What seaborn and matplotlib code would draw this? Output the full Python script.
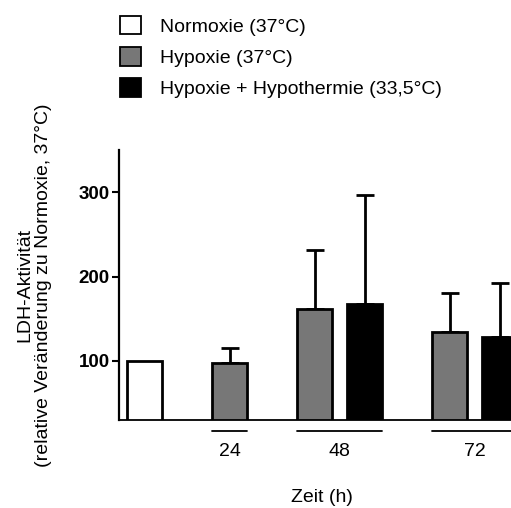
import numpy as np
import pandas as pd
import matplotlib
matplotlib.use("Agg")
import matplotlib.pyplot as plt
import matplotlib.transforms as mtransforms
from matplotlib.patches import Patch
import seaborn as sns

# ---------------- data ----------------
conditions = ["Normoxie (37°C)", "Hypoxie (37°C)", "Hypoxie + Hypothermie (33,5°C)"]
time_labels = ["24", "48", "72"]
normoxie_mean = [100]
hypoxie_mean = [97, 161, 134]
hypoxie_err = [18, 70, 47]
hypotherm_mean = [np.nan, 168, 128]
hypotherm_err = [np.nan, 129, 64]
ylabel_text = "LDH-Aktivität\n(relative Veränderung zu Normoxie, 37°C)"
xlabel_text = "Zeit (h)"
y_ticks = [100, 200, 300]

# ---------------- style ----------------
sns.set_style("ticks")
plt.rcParams["font.family"] = ["Liberation Sans", "DejaVu Sans"]
for k in ("text.color", "axes.labelcolor", "xtick.color", "ytick.color", "axes.edgecolor"):
    plt.rcParams[k] = "black"
colors = {conditions[0]: "white", conditions[1]: "#777777", conditions[2]: "black"}

# layout constants (bar width : within-group step : between-group step)
BAR_W = 0.7
WITHIN = 1.0
BETWEEN = 1.7

# build table of bars with layout positions
rows = []
groups = [("", [(conditions[0], normoxie_mean[0], np.nan)])]
for i, t in enumerate(time_labels):
    g = [(conditions[1], hypoxie_mean[i], hypoxie_err[i])]
    if not np.isnan(hypotherm_mean[i]):
        g.append((conditions[2], hypotherm_mean[i], hypotherm_err[i]))
    groups.append((t, g))

pos = 0.0
group_spans = []
first = True
for label, bars in groups:
    gpos = []
    for j, (cond, m, e) in enumerate(bars):
        if not first:
            pos += WITHIN if j > 0 else BETWEEN
        first = False
        rows.append({"pos": pos, "val": m, "err": e, "cond": cond})
        gpos.append(pos)
    group_spans.append((label, gpos[0], gpos[-1]))
df = pd.DataFrame(rows)

# ---------------- figure ----------------
W, H = 511, 508
fig = plt.figure(figsize=(W / 100, H / 100), dpi=100)
ax_left, ax_bottom_px, ax_top_px = 119, 420, 150
xmin, xmax = -0.51, 7.6
px_per_unit = 50.0
ax_w = (xmax - xmin) * px_per_unit
ax = fig.add_axes([ax_left / W, (H - ax_bottom_px) / H, ax_w / W, (ax_bottom_px - ax_top_px) / H])

sns.barplot(data=df, x="pos", y="val", hue="cond", hue_order=conditions,
            palette=colors, native_scale=True, width=BAR_W, dodge=False,
            errorbar=None, edgecolor="black", linewidth=2.0, saturation=1,
            legend=False, ax=ax, zorder=2)

e = df.dropna(subset=["err"])
ax.errorbar(e["pos"], e["val"], yerr=[np.zeros(len(e)), e["err"]], fmt="none",
            ecolor="black", elinewidth=2.0, capsize=6.5, capthick=2.0, zorder=1)

ax.set_xlim(xmin, xmax)
ax.set_ylim(30, 350)
ax.set_yticks(y_ticks)
ax.set_yticklabels([str(v) for v in y_ticks], fontsize=13.5, fontweight="bold")
ax.tick_params(axis="y", length=5, width=1.5, pad=1.5, color="black")

centers = [(a + b) / 2 for lbl, a, b in group_spans if lbl]
ax.set_xticks(centers)
ax.set_xticklabels([lbl for lbl, a, b in group_spans if lbl], fontsize=14)
ax.tick_params(axis="x", length=0, pad=16.5)

sns.despine(ax=ax)
ax.spines["left"].set_linewidth(1.6)
ax.spines["bottom"].set_linewidth(1.3)

trans = mtransforms.blended_transform_factory(ax.transData, ax.transAxes)
for lbl, a, b in group_spans:
    if lbl:
        ax.plot([a - BAR_W / 2, b + BAR_W / 2], [-0.04, -0.04], color="black",
                lw=1.3, transform=trans, clip_on=False)

ax.set_ylabel(ylabel_text, fontsize=14, linespacing=1.15)
ax.yaxis.set_label_coords(-0.165, 0.5)
ax.set_xlabel(xlabel_text, fontsize=14)
ax.xaxis.set_label_coords(0.5, -0.256)

handles = [Patch(facecolor=colors[c], edgecolor="black", linewidth=1.3) for c in conditions]
fig.legend(handles, conditions, loc="upper left", bbox_to_anchor=(120 / W, (H - 16) / H),
           frameon=False, fontsize=14, handlelength=1.08, handleheight=1.08,
           handletextpad=1.0, labelspacing=0.58, borderpad=0, borderaxespad=0)

fig.savefig("out.png", dpi=100, facecolor="white")
